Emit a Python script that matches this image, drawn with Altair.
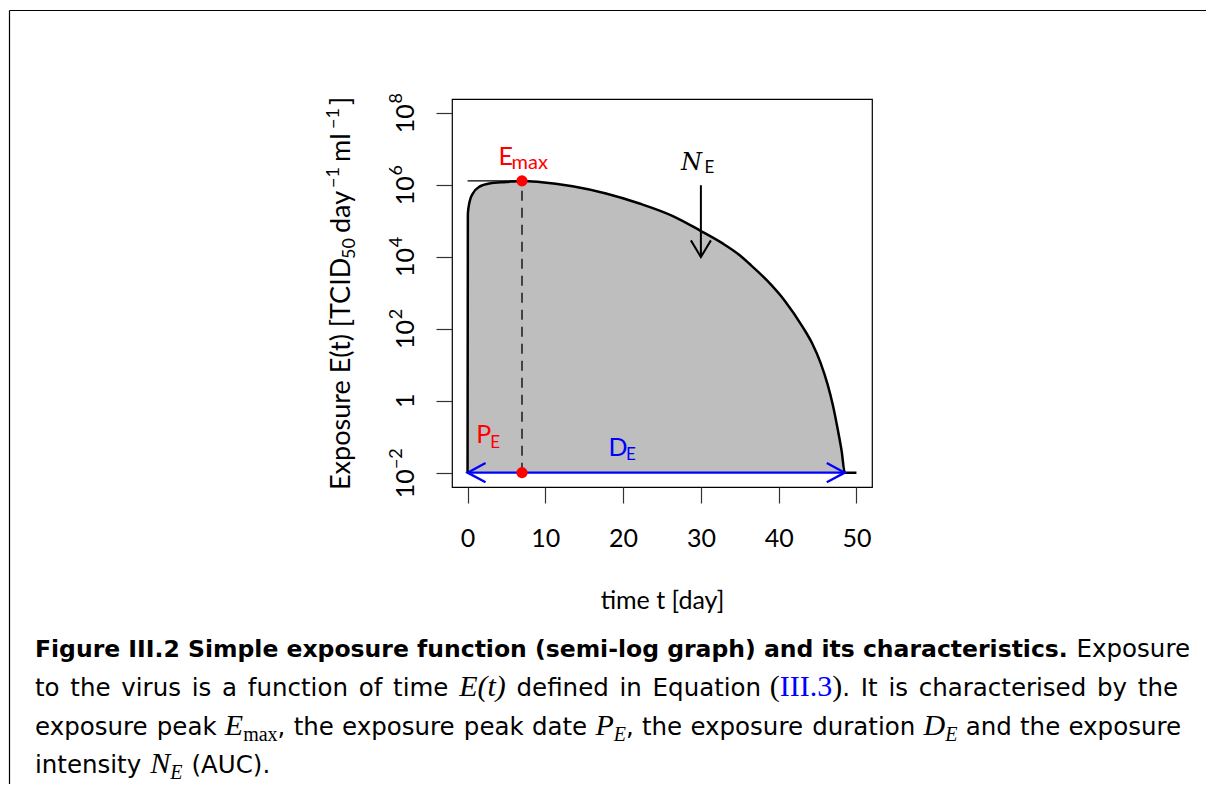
import altair as alt
import pandas as pd

# ---------------- data ----------------
t_days = [0, 0.04, 0.26, 0.68, 1.54, 2.83, 4.97, 6.97, 9.25, 13.5, 17.8, 22.1,
          26.4, 29.8, 32.8, 35.0, 36.2, 38.5, 40.8, 43.1, 44.3, 45.4, 46.3,
          47.0, 47.6, 48.1, 48.5, 50]
log10_exposure = [-2, 5.21, 5.54, 5.77, 5.96, 6.05, 6.09, 6.12, 6.09, 5.97, 5.77,
                  5.49, 5.14, 4.75, 4.38, 4.05, 3.82, 3.35, 2.78, 2.05, 1.6, 1.05,
                  0.45, -0.15, -0.8, -1.4, -2, -2]
floor_value = 0.01
peak_date = 7.0          # P_E
peak_value = 10 ** 6.12  # E_max
duration = 48.5          # D_E
intensity_arrow_t = 30
intensity_arrow_from = 1e6
intensity_arrow_to = 1e4
duration_label_t = 20

x_ticks = [0, 10, 20, 30, 40, 50]
y_ticks = [0.01, 1, 100, 1e4, 1e6, 1e8]
y_tick_base = ["10", "1", "10", "10", "10", "10"]
y_tick_exp = ["−2", "", "2", "4", "6", "8"]

caption_bold = "Figure III.2 Simple exposure function (semi-log graph) and its characteristics."
caption_line2 = [[("to", "r")], [("the", "r")], [("virus", "r")], [("is", "r")], [("a", "r")],
                 [("function", "r")], [("of", "r")], [("time", "r")], [("E(t)", "mi")],
                 [("defined", "r")], [("in", "r")], [("Equation", "r")],
                 [("(", "mr"), ("III.3", "mb"), (")", "mr"), (".", "r")],
                 [("It", "r")], [("is", "r")], [("characterised", "r")], [("by", "r")],
                 [("the", "r")]]
caption_line3 = [[("exposure", "r")], [("peak", "r")], [("E", "mi"), ("max", "sr"), (",", "r")],
                 [("the", "r")], [("exposure", "r")], [("peak", "r")], [("date", "r")],
                 [("P", "mi"), ("E", "si"), (",", "r")], [("the", "r")], [("exposure", "r")],
                 [("duration", "r")], [("D", "mi"), ("E", "si")], [("and", "r")],
                 [("the", "r")], [("exposure", "r")]]
caption_line4 = [[("intensity", "r")], [("N", "mi"), ("E", "si")], [("(AUC).", "r")]]

curve = pd.DataFrame({
    "t": t_days,
    "E": [10 ** v for v in log10_exposure],
    "base": [floor_value] * len(t_days),
})
peak_df = pd.DataFrame({"t": [peak_date, peak_date], "E": [peak_value, floor_value]})
ytick_df = pd.DataFrame({"v": y_ticks, "b": y_tick_base, "e": y_tick_exp})
one = pd.DataFrame({"a": [0]})

# ---------------- layout ----------------
X0, Y0 = 452, 99   # page position of the plot area
W, H = 420, 388

xs = alt.Scale(domain=[-2, 52], nice=False, zero=False)
ys = alt.Scale(type="log", domain=[10 ** -2.4, 10 ** 8.4], nice=False)

FONT = "Lato"
CAP = "DejaVu Sans"
SERIF = "Liberation Serif"

xaxis = alt.Axis(values=x_ticks, domain=False, grid=False, tickSize=16,
                 tickColor="#333333", tickWidth=1.2, labelPadding=23,
                 labelFontSize=25, labelFont=FONT, labelColor="black",
                 title="time t [day]", titleFont=FONT, titleFontSize=25,
                 titleFontWeight="normal", titleColor="black",
                 titleX=662 - X0, titleY=608 - (Y0 + H), titleAlign="center",
                 titleBaseline="alphabetic", titleAngle=0)

yaxis = alt.Axis(values=y_ticks, domain=False, grid=False, tickSize=16,
                 tickColor="#333333", tickWidth=1.2, labels=False, title="")

area = alt.Chart(curve).mark_area(color="#BEBEBE", opacity=1, interpolate="monotone").encode(
    x=alt.X("t:Q", scale=xs, axis=xaxis),
    y=alt.Y("E:Q", scale=ys, axis=yaxis),
    y2="base:Q",
)
line = alt.Chart(curve).mark_line(color="black", strokeWidth=2.5, interpolate="monotone").encode(
    x=alt.X("t:Q", scale=xs), y=alt.Y("E:Q", scale=ys))

peak_only = pd.DataFrame({"t": [peak_date], "E": [peak_value], "t0": [0], "base": [floor_value]})
peak_h = alt.Chart(peak_only).mark_rule(color="black", strokeWidth=1.1).encode(
    x=alt.X("t0:Q", scale=xs), x2="t:Q", y=alt.Y("E:Q", scale=ys))
peak_v = alt.Chart(peak_only).mark_rule(color="black", strokeWidth=1.3, strokeDash=[10, 7]).encode(
    x=alt.X("t:Q", scale=xs), y=alt.Y("base:Q", scale=ys), y2="E:Q")

dur_df = pd.DataFrame({"t0": [0], "t1": [duration], "E": [floor_value]})
dur_line = alt.Chart(dur_df).mark_rule(color="#0000FF", strokeWidth=2.3).encode(
    x=alt.X("t0:Q", scale=xs), x2="t1:Q", y=alt.Y("E:Q", scale=ys))
left_head = alt.Chart(dur_df).mark_point(
    shape="M 1.8 -0.97 L 0 0 L 1.8 0.97", size=400, filled=False,
    color="#0000FF", strokeWidth=2.3, opacity=1).encode(
    x=alt.X("t0:Q", scale=xs), y=alt.Y("E:Q", scale=ys))
right_head = alt.Chart(dur_df).mark_point(
    shape="M -1.8 -0.97 L 0 0 L -1.8 0.97", size=400, filled=False,
    color="#0000FF", strokeWidth=2.3, opacity=1).encode(
    x=alt.X("t1:Q", scale=xs), y=alt.Y("E:Q", scale=ys))

arr_df = pd.DataFrame({"t": [intensity_arrow_t], "E0": [intensity_arrow_from],
                       "E1": [intensity_arrow_to]})
int_line = alt.Chart(arr_df).mark_rule(color="black", strokeWidth=2).encode(
    x=alt.X("t:Q", scale=xs), y=alt.Y("E0:Q", scale=ys), y2="E1:Q")
int_head = alt.Chart(arr_df).mark_point(
    shape="M -1 -1.67 L 0 0 L 1 -1.67", size=400, filled=False,
    color="black", strokeWidth=2, opacity=1).encode(
    x=alt.X("t:Q", scale=xs), y=alt.Y("E1:Q", scale=ys))

dots = alt.Chart(peak_df).mark_circle(color="#FF0000", size=125, opacity=1).encode(
    x=alt.X("t:Q", scale=xs), y=alt.Y("E:Q", scale=ys))


def anno(df, text, dx, dy, size, color, font=FONT, style="normal"):
    return alt.Chart(df).mark_text(
        text=text, dx=dx, dy=dy, fontSize=size, font=font, fontStyle=style,
        color=color, align="left", baseline="alphabetic").encode(
        x=alt.X("t:Q", scale=xs), y=alt.Y("E:Q", scale=ys))


peak_top = pd.DataFrame({"t": [peak_date], "E": [peak_value]})
peak_bot = pd.DataFrame({"t": [peak_date], "E": [floor_value]})
dlab = pd.DataFrame({"t": [duration_label_t], "E": [floor_value]})
nlab = pd.DataFrame({"t": [intensity_arrow_t], "E": [intensity_arrow_from]})

annos = [
    anno(peak_top, "E", -23.5, -15.7, 25, "#FF0000"),
    anno(peak_top, "max", -10.5, -11.7, 20, "#FF0000"),
    anno(nlab, "N", -20, -15, 24, "black", font="DejaVu Serif", style="italic"),
    anno(nlab, "E", 3.5, -11.8, 17, "black"),
    anno(peak_bot, "P", -45.8, -29.6, 25, "#FF0000"),
    anno(peak_bot, "E", -31.8, -24.6, 17, "#FF0000"),
    anno(dlab, "D", -14.7, -16.3, 25, "#0000FF"),
    anno(dlab, "E", 3, -12.3, 17, "#0000FF"),
]

# ---------------- y tick labels (10 + raised exponent, rotated) ----------------
LAB_X = 413.5 - X0


def ylab(filter_expr, field, size, dx, dy):
    return alt.Chart(ytick_df).transform_filter(filter_expr).mark_text(
        fontSize=size, font=FONT, color="black", angle=270, align="center",
        baseline="alphabetic", dx=dx, dy=dy).encode(
        x=alt.value(LAB_X), y=alt.Y("v:Q", scale=ys), text=f"{field}:N")


ylabels = [
    ylab("datum.e == ''", "b", 25, 0, 0),
    ylab("length(datum.e) == 1", "b", 25, -5.5, 0),
    ylab("length(datum.e) == 1", "e", 18, 15, -11.5),
    ylab("length(datum.e) == 2", "b", 25, -11, 0),
    ylab("length(datum.e) == 2", "e", 18, 14, -11.5),
]


# ---------------- caption, y title & frame (page positions) ----------------
def txt(text, px, py, size=24.5, color="black", font=CAP, weight="normal",
        style="normal", align="left", angle=0):
    return alt.Chart(one).mark_text(
        text=text, fontSize=size, font=font, fontWeight=weight, fontStyle=style,
        color=color, align=align, baseline="alphabetic", angle=angle).encode(
        x=alt.value(px - X0), y=alt.value(py - Y0))


ytitle = [
    txt("Exposure E(t) [TCID", 350, 490, size=27, font=FONT, angle=270),
    txt("50", 355, 259, size=18, font=FONT, angle=270),
    txt("day", 350, 233, size=27, font=FONT, angle=270),
    txt("−1", 338.5, 188, size=18, font=FONT, angle=270),
    txt("ml", 350, 162, size=27, font=FONT, angle=270),
    txt("−1", 338.5, 129, size=18, font=FONT, angle=270),
    txt("]", 350, 105, size=27, font=FONT, angle=270),
]

# approximate advance widths (em) used to justify the caption lines
DV = {' ': .318, 'a': .613, 'b': .635, 'c': .550, 'd': .635, 'e': .615, 'f': .352,
      'g': .635, 'h': .634, 'i': .278, 'k': .579, 'l': .278, 'm': .974, 'n': .634,
      'o': .612, 'p': .635, 'r': .411, 's': .521, 't': .392, 'u': .634, 'v': .592,
      'y': .592, 'x': .592, 'w': .818, '(': .390, ')': .390, '.': .318, ',': .318,
      'A': .684, 'C': .698, 'U': .732, 'I': .295, 'E': .632}
TI = {'E': .611, 'P': .611, 'D': .722, 'N': .667, 't': .278, '(': .333, ')': .333}
TR = {'I': .333, '.': .25, '3': .5, '(': .333, ')': .333, 'm': .778, 'a': .444, 'x': .5}
KINDS = {
    "r": dict(font=CAP, size=24.5, style="normal", color="black", m=DV, dy=0),
    "mi": dict(font=SERIF, size=30, style="italic", color="black", m=TI, dy=0),
    "mr": dict(font=SERIF, size=30, style="normal", color="black", m=TR, dy=0),
    "mb": dict(font=SERIF, size=30, style="normal", color="#0000FF", m=TR, dy=0),
    "si": dict(font=SERIF, size=20, style="italic", color="black", m=TI, dy=6),
    "sr": dict(font=SERIF, size=20, style="normal", color="black", m=TR, dy=6),
}


def run_width(text, kind):
    k = KINDS[kind]
    return sum(k["m"].get(c, 0.55) for c in text) * k["size"]


def set_line(tokens, x_start, y, x_end=None, gap=9.0):
    widths = [sum(run_width(t, k) for t, k in tok) for tok in tokens]
    if x_end is not None:
        gap = (x_end - x_start - sum(widths)) / (len(tokens) - 1)
    layers, x = [], x_start
    for tok, w in zip(tokens, widths):
        for text, kind in tok:
            k = KINDS[kind]
            layers.append(txt(text, x, y + k["dy"], size=k["size"], font=k["font"],
                              style=k["style"], color=k["color"]))
            x += run_width(text, kind)
        x += gap
    return layers


L1, L2, L3, L4 = 657, 696, 735, 773
caption = [
    txt(caption_bold, 35, L1, weight="bold", size=23.5),
    txt("Exposure", 1190, L1, align="right"),
    *set_line(caption_line2, 35, L2, x_end=1178),
    *set_line(caption_line3, 35, L3, x_end=1182),
    *set_line(caption_line4, 35, L4, gap=9),
]

frame_top = alt.Chart(one).mark_rule(color="black", strokeWidth=1.2).encode(
    x=alt.value(9.5 - X0), x2=alt.value(1214 - X0), y=alt.value(10.5 - Y0))
frame_left = alt.Chart(one).mark_rule(color="black", strokeWidth=1.2).encode(
    x=alt.value(9.5 - X0), y=alt.value(10.5 - Y0), y2=alt.value(800 - Y0))

chart = alt.layer(
    area, int_line, int_head, line, peak_h, peak_v, dur_line, left_head,
    right_head, dots, *annos, *ylabels, *ytitle, *caption, frame_top, frame_left,
).properties(
    width=W, height=H,
    autosize=alt.AutoSizeParams(type="none"),
    padding={"left": X0 - 8, "top": Y0 - 8, "right": 1198 - (X0 - 8) - W,
             "bottom": 776 - (Y0 - 8) - H},
    background="white",
).configure_view(stroke="black", strokeWidth=1.2, fill="white")

chart.save("out.html", embed_options={"renderer": "svg", "actions": False})
